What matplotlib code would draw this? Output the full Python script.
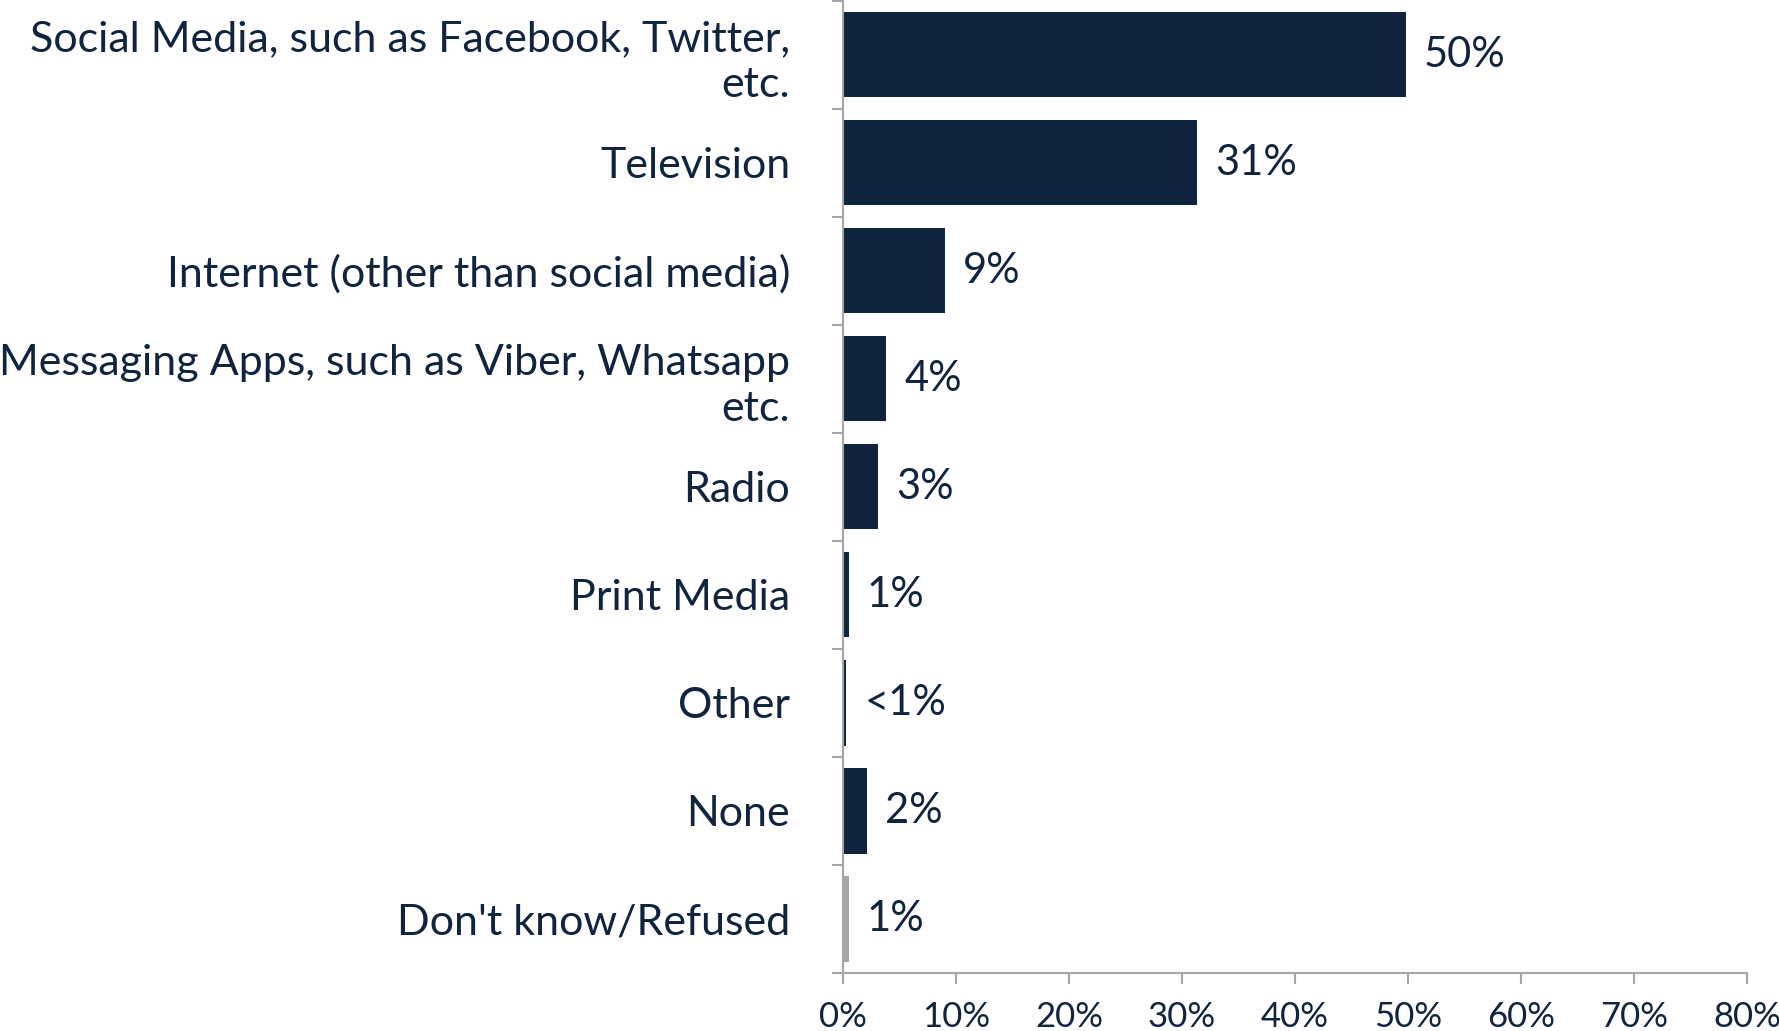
import matplotlib
matplotlib.use("Agg")
import matplotlib.pyplot as plt
import numpy as np

categories = [
    "Social Media, such as Facebook, Twitter,\netc.",
    "Television",
    "Internet (other than social media)",
    "Messaging Apps, such as Viber, Whatsapp\netc.",
    "Radio",
    "Print Media",
    "Other",
    "None",
    "Don't know/Refused",
]
values = [49.8, 31.3, 9.0, 3.8, 3.1, 0.5, 0.3, 2.1, 0.5]
value_labels = ["50%", "31%", "9%", "4%", "3%", "1%", "<1%", "2%", "1%"]
xticks = [0, 10, 20, 30, 40, 50, 60, 70, 80]
xtick_labels = ["0%", "10%", "20%", "30%", "40%", "50%", "60%", "70%", "80%"]

NAVY = "#10233f"
GRAY = "#a6a6a6"
colors = [NAVY] * 8 + ["#a6a6a6"]
FONT = ["Lato", "DejaVu Sans"]
plt.rcParams["font.family"] = FONT

fig = plt.figure(figsize=(17.79, 10.31), dpi=100)
ax = fig.add_axes([843 / 1779, 58 / 1031, (1747 - 843) / 1779, (1031 - 58) / 1031 - 0.0005])

y = np.arange(len(categories))
ax.barh(y, values, height=0.79, color=colors)
ax.set_ylim(len(categories) - 0.5, -0.5)
ax.set_xlim(0, 80)

for yi, v, lab in zip(y, values, value_labels):
    ax.annotate(lab, (v, yi), xytext=(13, 0), textcoords="offset points",
                va="center", ha="left", fontsize=30, color=NAVY)

ax.set_yticks(y)
ax.set_yticklabels(categories, fontsize=31, color=NAVY, linespacing=1.25, ha="right")
ax.tick_params(axis="y", which="major", length=0, pad=38)
ax.set_yticks(np.arange(-0.5, len(categories) + 0.5, 1), minor=True)
ax.tick_params(axis="y", which="minor", length=8, width=1.5, color=GRAY, direction="out")

ax.set_xticks(xticks)
ax.set_xticklabels(xtick_labels, fontsize=25, color=NAVY)
ax.tick_params(axis="x", length=8, width=1.5, color=GRAY, pad=12)

for s in ["top", "right"]:
    ax.spines[s].set_visible(False)
for s in ["left", "bottom"]:
    ax.spines[s].set_color(GRAY)
    ax.spines[s].set_linewidth(1.5)

fig.savefig("out.png", dpi=100)
